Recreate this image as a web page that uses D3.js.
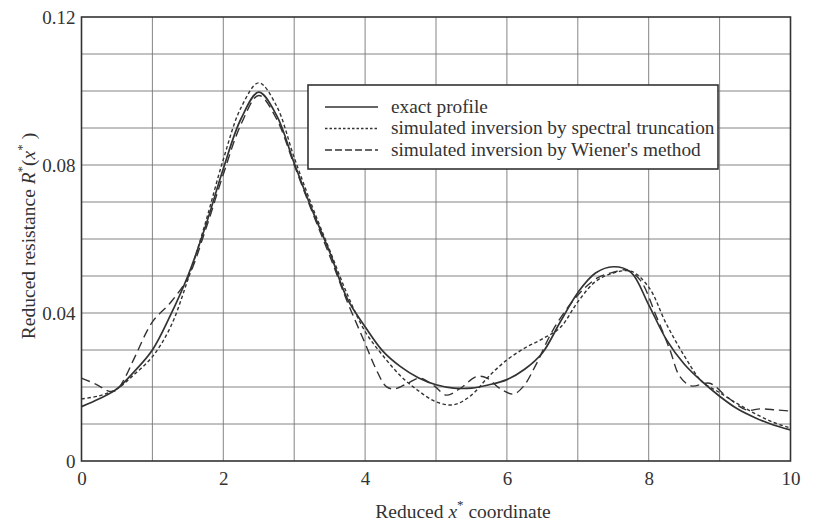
<!DOCTYPE html>
<html><head><meta charset="utf-8">
<script src="https://cdn.jsdelivr.net/npm/d3@7"></script>
<style>body{margin:0;background:#fff}svg{display:block}text{font-family:"Liberation Serif","Times New Roman",serif;fill:#333}</style>
</head><body>
<script>
// ---- data ----
const exactX = [0,0.25,0.5,0.75,1,1.25,1.5,1.75,2,2.25,2.5,2.75,3,3.25,3.5,3.75,4,4.25,4.5,4.75,5,5.25,5.5,5.75,6,6.25,6.5,6.75,7,7.25,7.5,7.75,8,8.25,8.5,8.75,9,9.25,9.5,9.75,10];
const exactY = [0.0147,0.0168,0.0195,0.0243,0.0300,0.0392,0.0500,0.0635,0.0790,0.0925,0.0997,0.0935,0.0805,0.0680,0.0565,0.0438,0.0363,0.0297,0.0255,0.0225,0.0206,0.0197,0.0197,0.0206,0.0220,0.0248,0.0292,0.0375,0.0455,0.0508,0.0525,0.0510,0.0422,0.0328,0.0262,0.0215,0.0175,0.0141,0.0117,0.0098,0.0084];
const truncX = [0,0.25,0.5,0.75,1,1.25,1.5,1.75,2,2.25,2.5,2.75,3,3.25,3.5,3.75,4,4.25,4.5,4.75,5,5.25,5.5,5.75,6,6.25,6.5,6.75,7,7.25,7.5,7.75,8,8.25,8.5,8.75,9,9.25,9.5,9.75,10];
const truncY = [0.0168,0.0176,0.0195,0.0235,0.0282,0.0360,0.0490,0.0645,0.0815,0.0955,0.1022,0.0960,0.0820,0.0690,0.0570,0.0450,0.0350,0.0285,0.0230,0.0190,0.0160,0.0152,0.0178,0.0230,0.0273,0.0305,0.0330,0.0360,0.0430,0.0485,0.0508,0.0513,0.0470,0.0370,0.0285,0.0215,0.0185,0.0155,0.0128,0.0105,0.0089];
const wienerX = [0,0.2,0.4,0.5,0.61,0.75,1,1.25,1.5,1.75,2,2.25,2.5,2.75,3,3.25,3.5,3.75,4,4.15,4.3,4.42,4.6,4.77,4.96,5.15,5.34,5.57,5.72,5.9,6.09,6.23,6.42,6.65,6.98,7.27,7.5,7.69,7.88,8.11,8.3,8.44,8.6,8.86,9.1,9.38,9.57,9.8,10];
const wienerY = [0.0224,0.0208,0.0188,0.0192,0.0224,0.0280,0.0376,0.0427,0.0495,0.0625,0.0775,0.0910,0.0988,0.0925,0.0800,0.0675,0.0555,0.0430,0.0318,0.0250,0.0201,0.0195,0.0210,0.0224,0.0205,0.0178,0.0196,0.0228,0.0224,0.0196,0.0181,0.0201,0.0264,0.0354,0.0444,0.0494,0.0510,0.0516,0.0489,0.0390,0.0300,0.0228,0.0203,0.0210,0.0174,0.0138,0.0141,0.0138,0.0135];
const xTicks = [0,2,4,6,8,10];
const yTicks = [0,0.04,0.08,0.12];
const legendLabels = ["exact profile","simulated inversion by spectral truncation","simulated inversion by Wiener's method"];

const W=814,H=523;
const svg=d3.select("body").append("svg").attr("width",W).attr("height",H);
const x=d3.scaleLinear().domain([0,10]).range([81.5,790.5]);
const y=d3.scaleLinear().domain([0,0.12]).range([461,17]);

// grid
const g=svg.append("g");
g.selectAll("line.vx").data(d3.range(1,10)).join("line")
 .attr("x1",d=>x(d)).attr("x2",d=>x(d)).attr("y1",y(0)).attr("y2",y(0.12))
 .attr("stroke","#777").attr("stroke-width",0.9);
g.selectAll("line.hy").data(d3.range(1,12).map(i=>i*0.01)).join("line")
 .attr("y1",d=>y(d)).attr("y2",d=>y(d)).attr("x1",x(0)).attr("x2",x(10))
 .attr("stroke","#777").attr("stroke-width",0.9);

// axes
const xa=svg.append("g").attr("transform",`translate(0,${y(0)})`)
 .call(d3.axisBottom(x).tickValues(xTicks).tickSize(0).tickPadding(11).tickFormat(d3.format("d")));
const ya=svg.append("g").attr("transform",`translate(${x(0)},0)`)
 .call(d3.axisLeft(y).tickValues(yTicks).tickSize(0).tickPadding(6).tickFormat(d=>d===0?"0":d3.format(".2f")(d)));
[xa,ya].forEach(a=>{a.select(".domain").remove();a.selectAll("text").attr("font-size",19).attr("fill","#333").style("font-family","'Liberation Serif',serif");});
svg.append("rect").attr("x",x(0)).attr("y",y(0.12)).attr("width",x(10)-x(0)).attr("height",y(0)-y(0.12))
 .attr("fill","none").attr("stroke","#333").attr("stroke-width",1.6);

// lines
const mk=(xs,ys)=>xs.map((v,i)=>[v,ys[i]]);
const line=d3.line().x(d=>x(d[0])).y(d=>y(d[1])).curve(d3.curveCatmullRom.alpha(0.5));
const series=[
 {pts:mk(exactX,exactY),dash:null,w:1.7},
 {pts:mk(truncX,truncY),dash:"3.5,2.5",w:1.4},
 {pts:mk(wienerX,wienerY),dash:"9,5",w:1.4}];
series.forEach(s=>svg.append("path").attr("d",line(s.pts)).attr("fill","none")
 .attr("stroke","#333").attr("stroke-width",s.w).attr("stroke-dasharray",s.dash));

// legend
const lg=svg.append("g");
lg.append("rect").attr("x",308).attr("y",85).attr("width",410).attr("height",84)
 .attr("fill","#fff").attr("stroke","#333").attr("stroke-width",1.6);
legendLabels.forEach((t,i)=>{
 const yy=107+i*21.5;
 lg.append("line").attr("x1",325).attr("x2",378).attr("y1",yy).attr("y2",yy)
  .attr("stroke","#333").attr("stroke-width",series[i].w).attr("stroke-dasharray",i==1?"2.5,2":(i==2?"7,3":null));
 lg.append("text").attr("x",391).attr("y",yy+5.5).attr("font-size",19.3).text(t);
});

// axis titles
const xt=svg.append("text").attr("x",463).attr("y",518).attr("text-anchor","middle").attr("font-size",19.5);
xt.append("tspan").text("Reduced ");
xt.append("tspan").attr("font-style","italic").text("x");
xt.append("tspan").attr("dy",-9).attr("font-size",13).text("*");
xt.append("tspan").attr("dy",9).text(" coordinate");

const yt=svg.append("text").attr("transform","translate(35,236) rotate(-90)").attr("text-anchor","middle").attr("font-size",19.5);
yt.append("tspan").text("Reduced resistance ");
yt.append("tspan").attr("font-style","italic").text("R");
yt.append("tspan").attr("dy",-9).attr("font-size",13).text("*");
yt.append("tspan").attr("dy",9).text("(");
yt.append("tspan").attr("font-style","italic").text("x");
yt.append("tspan").attr("dy",-9).attr("font-size",13).text("*");
yt.append("tspan").attr("dy",9).text(" )");
</script>
</body></html>
